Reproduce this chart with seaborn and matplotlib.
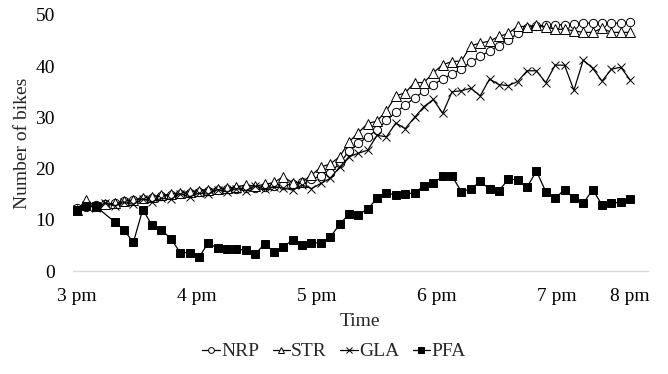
import numpy as np
import pandas as pd
import matplotlib
matplotlib.use("Agg")
import matplotlib.pyplot as plt
import seaborn as sns

# readings every ~5 min, index 0..59 (3 pm -> 8 pm)
nrp = [12.3, 12.5, 12.8, 13.0, 13.3, 13.6, 13.8, 14.1, 14.3, 14.6,
       14.8, 15.0, 15.2, 15.4, 15.6, 15.8, 16.0, 16.1, 16.2, 16.3,
       16.5, 16.6, 16.8, 16.95, 17.3, 18.0, 18.5, 19.2, 21.0, 23.4,
       24.9, 26.2, 27.6, 29.4, 31.0, 32.4, 33.8, 35.1, 36.4, 37.5,
       38.5, 39.5, 40.8, 41.9, 43.0, 44.0, 45.1, 46.4, 47.5, 47.9,
       48.0, 48.1, 48.1, 48.2, 48.4, 48.4, 48.4, 48.4, 48.4, 48.6]
st = [12.0, 13.8, 12.6, 13.0, 13.2, 13.6, 13.9, 14.3, 14.5, 14.8,
      15.0, 15.3, 15.5, 15.7, 15.9, 16.1, 16.2, 16.4, 16.8, 16.6,
      16.9, 17.3, 18.4, 17.2, 17.4, 18.7, 20.3, 20.9, 22.3, 25.2,
      27.0, 28.8, 29.3, 31.3, 34.2, 34.8, 36.8, 36.8, 38.7, 40.3,
      40.9, 41.0, 44.0, 44.5, 44.9, 45.8, 46.4, 47.8, 47.7, 48.0,
      47.7, 47.2, 47.2, 46.9, 46.6, 46.6, 47.4, 46.6, 46.6, 46.6]
gla = [12.2, 12.8, 12.4, 13.3, 12.7, 13.4, 13.0, 14.1, 13.5, 14.2,
       14.0, 15.1, 14.5, 15.2, 15.0, 15.9, 15.4, 16.1, 15.7, 16.6,
       16.0, 16.5, 16.2, 15.8, 16.8, 16.1, 17.1, 18.1, 20.3, 22.3,
       23.0, 23.6, 26.5, 26.2, 28.9, 27.8, 30.0, 32.1, 33.5, 30.8,
       35.0, 35.2, 35.7, 34.2, 37.5, 36.4, 36.2, 37.0, 39.1, 39.1,
       36.8, 40.2, 40.2, 35.3, 41.2, 39.6, 37.1, 39.4, 39.8, 37.3]
pfa = [11.9, 12.6, 12.6, np.nan, 9.6, 8.0, 5.6, 12.0, 8.9, 8.0,
       6.3, 3.6, 3.6, 2.7, 5.5, 4.4, 4.3, 4.2, 4.1, 3.3,
       5.3, 3.8, 4.7, 6.1, 5.1, 5.5, 5.5, 6.6, 9.1, 11.1,
       11.0, 12.1, 14.2, 15.3, 14.8, 15.0, 15.3, 16.6, 17.1, 18.5,
       18.5, 15.5, 16.0, 17.5, 16.0, 15.7, 17.9, 17.8, 16.4, 19.5,
       15.5, 14.2, 15.9, 14.2, 13.2, 15.9, 12.9, 13.3, 13.4, 14.0]

series_names = ["NRP", "STR", "GLA", "PFA"]
tick_pos = [0, 12.8, 25.6, 38.4, 51.2, 59]
tick_labels = ["3 pm", "4 pm", "5 pm", "6 pm", "7 pm", "8 pm"]

styles = {
    "NRP": dict(marker="o", markerfacecolor="white", markersize=6),
    "STR": dict(marker="^", markerfacecolor="white", markersize=6.5),
    "GLA": dict(marker="x", markersize=5.5),
    "PFA": dict(marker="s", markerfacecolor="black", markersize=5.5),
}

df = pd.DataFrame({"idx": np.arange(len(nrp)), "NRP": nrp, "STR": st, "GLA": gla, "PFA": pfa})
long_df = df.melt(id_vars="idx", var_name="series", value_name="bikes").dropna()

sns.set_theme(style="white")
plt.rcParams["font.family"] = ["Liberation Serif", "DejaVu Serif"]

fig = plt.figure(figsize=(6.68, 3.74), dpi=100)
ax = fig.add_axes([0.109, 0.2754, 0.861, 0.6846])

for name in series_names:
    sub = long_df[long_df["series"] == name]
    sns.lineplot(data=sub, x="idx", y="bikes", ax=ax, color="black", linewidth=0.9,
                 markeredgecolor="black", markeredgewidth=0.7, label=name,
                 **styles[name])

ax.set_xlim(-0.46, 60.9)
ax.set_ylim(0, 50)
ax.set_yticks([0, 10, 20, 30, 40, 50])
ax.set_xticks(tick_pos)
ax.set_xticklabels(tick_labels)
ax.tick_params(axis="both", length=0, labelsize=14, colors="black")
ax.tick_params(axis="y", pad=13)
ax.tick_params(axis="x", pad=12)
ax.set_xlabel("Time", fontsize=14, labelpad=6)
ax.set_ylabel("Number of bikes", fontsize=14, labelpad=3)

for s in ["top", "right", "left"]:
    ax.spines[s].set_visible(False)
ax.spines["bottom"].set_color("#d9d9d9")
ax.spines["bottom"].set_linewidth(1.0)

ax.legend_.remove()
handles, labels = ax.get_legend_handles_labels()
fig.legend(handles, labels, loc="lower center", bbox_to_anchor=(0.5, 0.0), ncol=4,
           frameon=False, fontsize=14, handlelength=0.9, handletextpad=0.05,
           columnspacing=0.7, markerscale=0.7, borderaxespad=0.3)

fig.savefig("out.png", dpi=100)
